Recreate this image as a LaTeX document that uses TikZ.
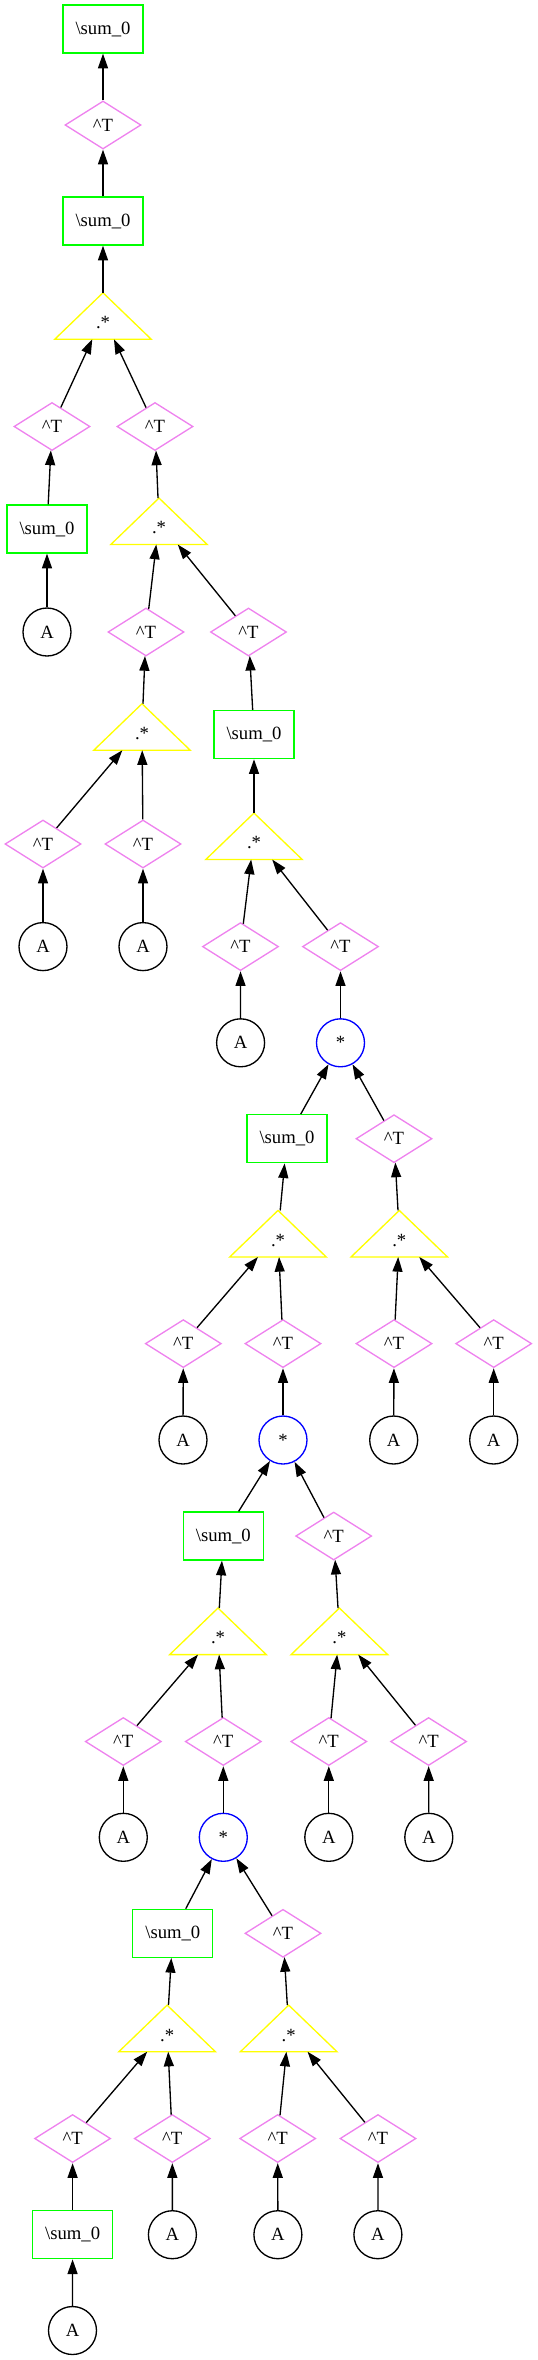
\documentclass[tikz,border=0pt]{standalone}
\usepackage{fontspec}
\setmainfont{Liberation Serif}
\usetikzlibrary{shapes.geometric,arrows.meta}
\definecolor{sumgreen}{HTML}{00FF00}
\definecolor{trviolet}{HTML}{EE82EE}
\definecolor{ewyellow}{HTML}{FFFF00}
\definecolor{mulblue}{HTML}{0000FF}
\begin{document}
\begin{tikzpicture}[x=0.75pt, y=-0.75pt, font=\fontsize{14}{16}\selectfont,
  sum/.style={draw=sumgreen,rectangle,minimum width=60pt,minimum height=36pt,inner sep=0pt,line width=1pt},
  tr/.style={draw=trviolet,diamond,minimum width=57pt,minimum height=36pt,inner sep=0pt,line width=1pt},
  ew/.style={rectangle,minimum width=72pt,minimum height=34.5pt,inner sep=0pt,text height=19pt,text depth=0pt},
  mul/.style={draw=mulblue,circle,minimum size=36pt,inner sep=0pt,line width=1pt},
  leaf/.style={draw=black,circle,minimum size=36pt,inner sep=0pt,line width=1pt},
  tri/.style={draw=ewyellow,line width=1pt},
  arr/.style={-{Triangle[length=11pt,width=7.5pt]},line width=1pt}]
    \useasboundingbox (0,0) rectangle (537,2360);

    \node[sum] (s1) at (103,29) {\textbackslash sum\_0};
    \node[sum] (s2) at (103,221) {\textbackslash sum\_0};
    \node[sum] (s3) at (47,529) {\textbackslash sum\_0};
    \node[sum] (s4) at (254,734.6) {\textbackslash sum\_0};
    \node[sum] (s5) at (287,1138.7) {\textbackslash sum\_0};
    \node[sum] (s6) at (223.3,1536) {\textbackslash sum\_0};
    \node[sum] (s7) at (172.8,1933.3) {\textbackslash sum\_0};
    \node[sum] (s8) at (72.6,2234.7) {\textbackslash sum\_0};

    \node[tr] (t1) at (103,125) {\textasciicircum T};
    \node[tr] (t2) at (52,426.5) {\textasciicircum T};
    \node[tr] (t3) at (155,426.5) {\textasciicircum T};
    \node[tr] (t4) at (146,632) {\textasciicircum T};
    \node[tr] (t5) at (248.5,632) {\textasciicircum T};
    \node[tr] (t6) at (43,844) {\textasciicircum T};
    \node[tr] (t7) at (143,844) {\textasciicircum T};
    \node[tr] (t8) at (240.5,946.6) {\textasciicircum T};
    \node[tr] (t9) at (340.5,946.6) {\textasciicircum T};
    \node[tr] (t10) at (394,1138.7) {\textasciicircum T};
    \node[tr] (t11) at (183.3,1343.6) {\textasciicircum T};
    \node[tr] (t12) at (283,1343.6) {\textasciicircum T};
    \node[tr] (t13) at (394,1343.6) {\textasciicircum T};
    \node[tr] (t14) at (493.7,1343.6) {\textasciicircum T};
    \node[tr] (t15) at (333.7,1536) {\textasciicircum T};
    \node[tr] (t16) at (123.3,1741.5) {\textasciicircum T};
    \node[tr] (t17) at (223.3,1741.5) {\textasciicircum T};
    \node[tr] (t18) at (328.8,1741.5) {\textasciicircum T};
    \node[tr] (t19) at (428.6,1741.5) {\textasciicircum T};
    \node[tr] (t20) at (283,1933.3) {\textasciicircum T};
    \node[tr] (t21) at (72.6,2138.5) {\textasciicircum T};
    \node[tr] (t22) at (172.3,2138.5) {\textasciicircum T};
    \node[tr] (t23) at (277.7,2138.5) {\textasciicircum T};
    \node[tr] (t24) at (378,2138.5) {\textasciicircum T};

    \node[ew] (e1) at (103,316) {.*};
    \node[ew] (e2) at (159,521.3) {.*};
    \node[ew] (e3) at (142,727) {.*};
    \node[ew] (e4) at (254,836.3) {.*};
    \node[ew] (e5) at (278,1233.7) {.*};
    \node[ew] (e6) at (399.3,1233.7) {.*};
    \node[ew] (e7) at (218,1631.3) {.*};
    \node[ew] (e8) at (339.4,1631.3) {.*};
    \node[ew] (e9) at (167.1,2028.4) {.*};
    \node[ew] (e10) at (288.7,2028.4) {.*};

    \node[mul] (p1) at (340.5,1042.8) {*};
    \node[mul] (p2) at (283,1440) {*};
    \node[mul] (p3) at (223.3,1837.3) {*};

    \node[leaf] (a1) at (47,632) {A};
    \node[leaf] (a2) at (43,946.6) {A};
    \node[leaf] (a3) at (143,946.6) {A};
    \node[leaf] (a4) at (240.6,1042.8) {A};
    \node[leaf] (a5) at (183,1440) {A};
    \node[leaf] (a6) at (393.7,1440) {A};
    \node[leaf] (a7) at (493.7,1440) {A};
    \node[leaf] (a8) at (123.3,1837.3) {A};
    \node[leaf] (a9) at (328.8,1837.3) {A};
    \node[leaf] (a10) at (428.8,1837.3) {A};
    \node[leaf] (a11) at (172.4,2234.7) {A};
    \node[leaf] (a12) at (277.9,2234.7) {A};
    \node[leaf] (a13) at (377.9,2234.7) {A};
    \node[leaf] (a14) at (72.5,2330.5) {A};

    \draw[tri] (e1.south west) -- (e1.south east) -- (e1.north) -- cycle;
    \draw[tri] (e2.south west) -- (e2.south east) -- (e2.north) -- cycle;
    \draw[tri] (e3.south west) -- (e3.south east) -- (e3.north) -- cycle;
    \draw[tri] (e4.south west) -- (e4.south east) -- (e4.north) -- cycle;
    \draw[tri] (e5.south west) -- (e5.south east) -- (e5.north) -- cycle;
    \draw[tri] (e6.south west) -- (e6.south east) -- (e6.north) -- cycle;
    \draw[tri] (e7.south west) -- (e7.south east) -- (e7.north) -- cycle;
    \draw[tri] (e8.south west) -- (e8.south east) -- (e8.north) -- cycle;
    \draw[tri] (e9.south west) -- (e9.south east) -- (e9.north) -- cycle;
    \draw[tri] (e10.south west) -- (e10.south east) -- (e10.north) -- cycle;

    \draw[arr] (t1) -- (s1);
    \draw[arr] (s2) -- (t1);
    \draw[arr] (e1) -- (s2);
    \draw[arr] (t2) -- (e1);
    \draw[arr] (t3) -- (e1);
    \draw[arr] (s3) -- (t2);
    \draw[arr] (e2) -- (t3);
    \draw[arr] (a1) -- (s3);
    \draw[arr] (t4) -- (e2);
    \draw[arr] (t5) -- (e2);
    \draw[arr] (e3) -- (t4);
    \draw[arr] (s4) -- (t5);
    \draw[arr] (t6) -- (e3);
    \draw[arr] (t7) -- (e3);
    \draw[arr] (e4) -- (s4);
    \draw[arr] (a2) -- (t6);
    \draw[arr] (a3) -- (t7);
    \draw[arr] (t8) -- (e4);
    \draw[arr] (t9) -- (e4);
    \draw[arr] (a4) -- (t8);
    \draw[arr] (p1) -- (t9);
    \draw[arr] (s5) -- (p1);
    \draw[arr] (t10) -- (p1);
    \draw[arr] (e5) -- (s5);
    \draw[arr] (e6) -- (t10);
    \draw[arr] (t11) -- (e5);
    \draw[arr] (t12) -- (e5);
    \draw[arr] (t13) -- (e6);
    \draw[arr] (t14) -- (e6);
    \draw[arr] (a5) -- (t11);
    \draw[arr] (p2) -- (t12);
    \draw[arr] (a6) -- (t13);
    \draw[arr] (a7) -- (t14);
    \draw[arr] (s6) -- (p2);
    \draw[arr] (t15) -- (p2);
    \draw[arr] (e7) -- (s6);
    \draw[arr] (e8) -- (t15);
    \draw[arr] (t16) -- (e7);
    \draw[arr] (t17) -- (e7);
    \draw[arr] (t18) -- (e8);
    \draw[arr] (t19) -- (e8);
    \draw[arr] (a8) -- (t16);
    \draw[arr] (p3) -- (t17);
    \draw[arr] (a9) -- (t18);
    \draw[arr] (a10) -- (t19);
    \draw[arr] (s7) -- (p3);
    \draw[arr] (t20) -- (p3);
    \draw[arr] (e9) -- (s7);
    \draw[arr] (e10) -- (t20);
    \draw[arr] (t21) -- (e9);
    \draw[arr] (t22) -- (e9);
    \draw[arr] (t23) -- (e10);
    \draw[arr] (t24) -- (e10);
    \draw[arr] (s8) -- (t21);
    \draw[arr] (a11) -- (t22);
    \draw[arr] (a12) -- (t23);
    \draw[arr] (a13) -- (t24);
    \draw[arr] (a14) -- (s8);
\end{tikzpicture}
\end{document}
